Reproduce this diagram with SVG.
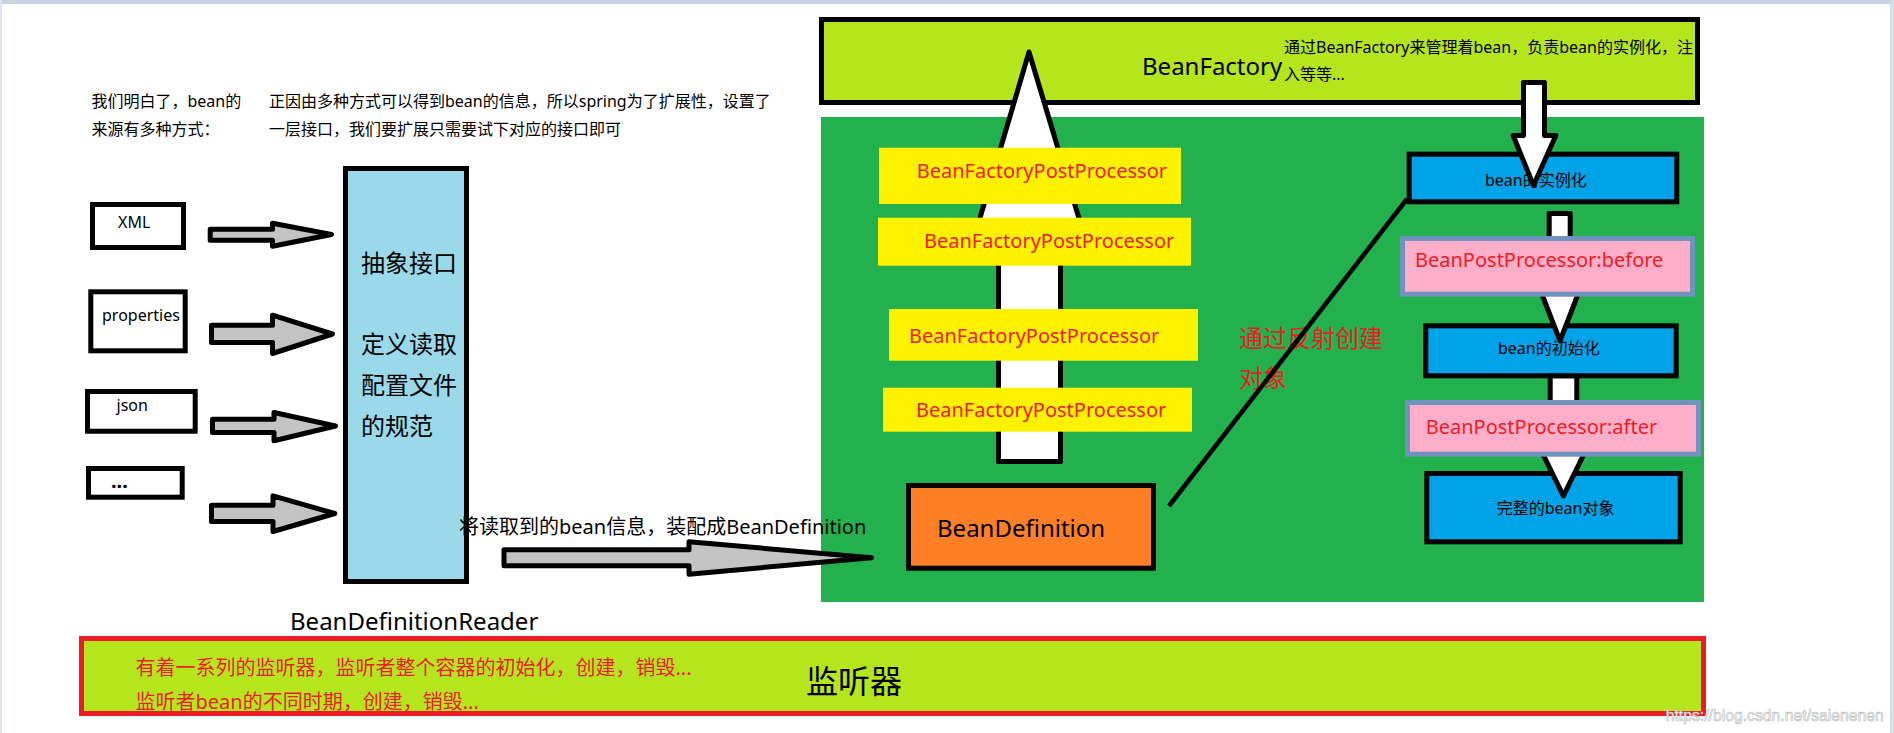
<svg xmlns="http://www.w3.org/2000/svg" width="1894" height="733" viewBox="0 0 1894 733">
<defs>
<style>
text{font-family:"Noto Sans","Noto Sans CJK SC",sans-serif;}
.blk{stroke:#000;stroke-width:5;}
.src{fill:#fff;stroke:#000;stroke-width:5;}
.src-t{font-size:16px;fill:#000;}
.garrow{fill:#c3c3c3;stroke:#000;stroke-width:5;stroke-linejoin:round;}
.warrow{fill:#fff;stroke:#000;stroke-width:5;stroke-linejoin:round;}
.bfpp{fill:#fff200;}
.bfpp-t{font-size:20px;fill:#ed1c24;}
.step{fill:#00a2e8;stroke:#000;stroke-width:5;}
.step-t{font-size:16px;fill:#000;}
.bpp{fill:#ffaec9;stroke:#7092be;stroke-width:5;}
.bpp-t{font-size:20px;fill:#ed1c24;}
.note{font-size:16px;fill:#000;}
.red{fill:#ed1c24;}
</style>
</defs>
<rect width="1894" height="733" fill="#fff"/>
<g id="frame">
<rect x="0" y="0" width="1894" height="4" fill="#c8d3e3"/>
<rect x="0" y="0" width="2" height="733" fill="#dbe4f0"/>
<rect x="1890" y="0" width="4" height="733" fill="#d5dfec"/>
</g>
<g id="notes">
<text class="note" x="91.5" y="107">我们明白了，bean的</text>
<text class="note" x="91.5" y="135">来源有多种方式：</text>
<text class="note" x="269" y="107">正因由多种方式可以得到bean的信息，所以spring为了扩展性，设置了</text>
<text class="note" x="269" y="135">一层接口，我们要扩展只需要试下对应的接口即可</text>
</g>
<g id="src-xml"><rect class="src" x="92.5" y="204.5" width="91" height="43"/><text class="src-t" x="118" y="228">XML</text></g>
<g id="src-properties"><rect class="src" x="90.8" y="291.8" width="94.4" height="59"/><text class="src-t" x="102" y="321">properties</text></g>
<g id="src-json"><rect class="src" x="87.5" y="391.5" width="107.7" height="39.7"/><text class="src-t" x="116.5" y="411">json</text></g>
<g id="src-etc"><rect class="src" x="88.5" y="468.5" width="93.7" height="28.7"/><text class="src-t" x="111" y="488" style="font-size:20px;font-weight:bold">...</text></g>
<g id="reader">
<rect x="345.5" y="168.5" width="121" height="413" fill="#99d9ea" class="blk"/>
<text x="361" y="272" style="font-size:24px">抽象接口</text>
<text x="361" y="353" style="font-size:24px">定义读取</text>
<text x="361" y="394" style="font-size:24px">配置文件</text>
<text x="361" y="435" style="font-size:24px">的规范</text>
<text x="290" y="630" style="font-size:24px">BeanDefinitionReader</text>
</g>
<g id="beanfactory">
<rect x="821.5" y="19.5" width="876" height="83" fill="#b5e61d" class="blk"/>
<text x="1142" y="75" style="font-size:24px">BeanFactory</text>
<text class="note" x="1284" y="53">通过BeanFactory来管理着bean，负责bean的实例化，注</text>
<text class="note" x="1284" y="80">入等等...</text>
</g>
<g id="container"><rect x="821" y="117" width="883" height="485" fill="#22b14c"/></g>
<g id="beandefinition">
<rect x="908.5" y="485.5" width="245" height="82.7" fill="#ff7f27" class="blk"/>
<text x="937" y="537" style="font-size:24px">BeanDefinition</text>
</g>
<g id="bean-instantiate"><rect class="step" x="1409.2" y="154.2" width="267.6" height="47.6"/><text class="step-t" x="1485" y="186">bean的实例化</text></g>
<g id="bean-init"><rect class="step" x="1425.8" y="325.8" width="250.4" height="50"/><text class="step-t" x="1498" y="354">bean的初始化</text></g>
<g id="bean-complete"><rect class="step" x="1426.8" y="473.5" width="253.4" height="68.3"/><text class="step-t" x="1496.7" y="514">完整的bean对象</text></g>
<g id="listener">
<rect x="81.5" y="638.5" width="1622" height="75" fill="#b5e61d" stroke="#ed1c24" stroke-width="5"/>
<text class="red" x="135.5" y="675" style="font-size:20px">有着一系列的监听器，监听者整个容器的初始化，创建，销毁...</text>
<text class="red" x="135.5" y="709" style="font-size:20px">监听者bean的不同时期，创建，销毁...</text>
<text x="806" y="693" style="font-size:32px">监听器</text>
</g>
<g id="connectors">
<polygon class="garrow" points="210.2,229.2 272.5,229.2 272.5,223.2 331.5,234.5 272.5,246.2 272.5,240.2 210.2,240.2"/>
<polygon class="garrow" points="211.5,325.2 272.5,325.2 272.5,315.2 332.5,334 272.5,353.5 272.5,342.5 211.5,342.5"/>
<polygon class="garrow" points="212.5,419.2 274,419.2 274,412.5 335.5,426 274,440.8 274,432.5 212.5,432.5"/>
<polygon class="garrow" points="211.5,505.2 273,505.2 273,495.8 334.8,513.5 273,531.5 273,521.5 211.5,521.5"/>
<polygon class="garrow" points="504,549.8 689,549.8 689,541.8 871.5,557.7 689,574.2 689,565.8 504,565.8"/>
<text x="459" y="534" style="font-size:20px">将读取到的bean信息，装配成BeanDefinition</text>
<polygon class="warrow" points="1029,52 1087,245 1060.5,245 1060.5,461.5 998.5,461.5 998.5,245 972,245"/>
<polygon class="warrow" points="1523.5,82.5 1544.5,82.5 1544.5,135.5 1555.8,135.5 1533.5,185.5 1513.2,135.5 1523.5,135.5"/>
<polygon class="warrow" points="1549.2,213.5 1570.2,213.5 1570.2,285 1581.6,285 1560,340.8 1538.4,285 1549.2,285"/>
<polygon class="warrow" points="1550.2,376 1576.8,376 1576.8,445 1588.4,445 1563.4,495.8 1538.4,445 1550.2,445"/>
<text class="red" x="1239" y="347" style="font-size:24px">通过反射创建</text>
<text class="red" x="1239" y="387" style="font-size:24px">对象</text>
<line x1="1169" y1="506" x2="1407" y2="199" stroke="#000" stroke-width="4.5"/>
</g>
<g id="bfpp-1"><rect class="bfpp" x="879" y="147.7" width="302" height="56.3"/><text class="bfpp-t" x="916.7" y="178.3">BeanFactoryPostProcessor</text></g>
<g id="bfpp-2"><rect class="bfpp" x="878" y="217.7" width="313" height="48"/><text class="bfpp-t" x="924" y="247.7">BeanFactoryPostProcessor</text></g>
<g id="bfpp-3"><rect class="bfpp" x="889" y="309" width="309" height="51.7"/><text class="bfpp-t" x="909" y="342.7">BeanFactoryPostProcessor</text></g>
<g id="bfpp-4"><rect class="bfpp" x="883" y="387.7" width="309" height="44"/><text class="bfpp-t" x="916" y="417.3">BeanFactoryPostProcessor</text></g>
<g id="bpp-before"><rect class="bpp" x="1402.5" y="238.5" width="290" height="55.7"/><text class="bpp-t" x="1415" y="266.7">BeanPostProcessor:before</text></g>
<g id="bpp-after"><rect class="bpp" x="1407.5" y="402.5" width="291" height="51.7"/><text class="bpp-t" x="1425.7" y="434.3">BeanPostProcessor:after</text></g>
<g id="watermark"><text x="1665.7" y="721" textLength="218" lengthAdjust="spacingAndGlyphs" style="font-family:'Liberation Sans',sans-serif;font-size:17px" fill="#fff" stroke="#bdbdbd" stroke-width="0.7">https://blog.csdn.net/saienenen</text></g>
</svg>
